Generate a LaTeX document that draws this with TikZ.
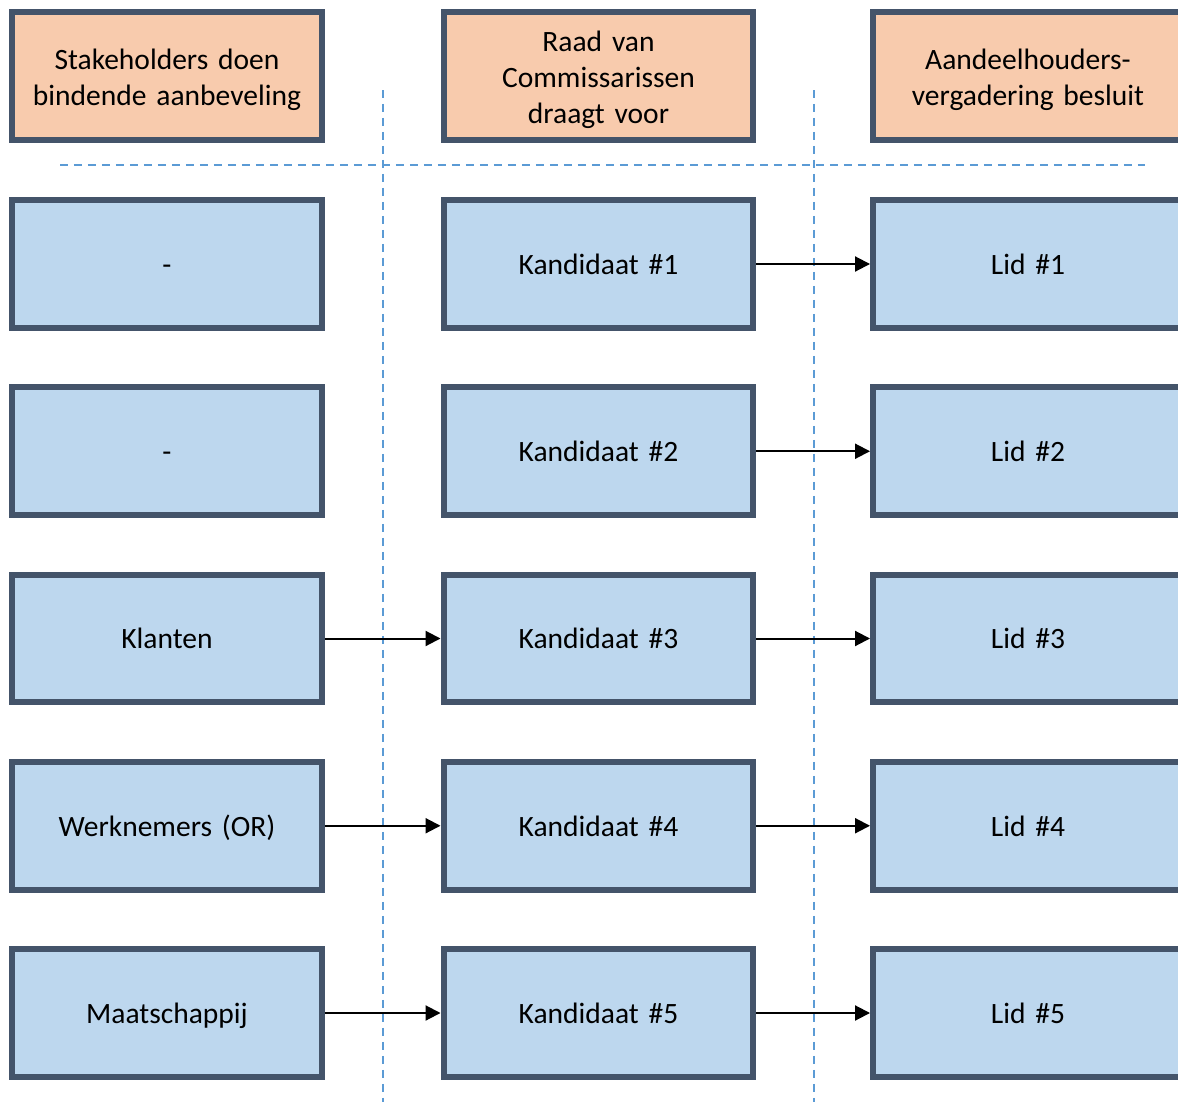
\documentclass[tikz,border=0pt]{standalone}
\usepackage{fontspec}
\setmainfont{Carlito}[WordSpace=0.8]
\usepackage{xcolor}
\usepackage{tikz}
\usetikzlibrary{positioning, arrows.meta}
\definecolor{slateborder}{HTML}{44546A}
\definecolor{peachfill}{HTML}{F8CBAD}
\definecolor{paleblue}{HTML}{BDD7EE}
\definecolor{dashblue}{HTML}{5B9BD5}

\begin{document}
\begin{tikzpicture}[x=0.02cm, y=-0.02cm]
	\tikzstyle{stepbox}=[draw=slateborder, line width=0.12cm, minimum width=6.2cm, minimum height=2.56cm, inner sep=0pt, text width=6cm, align=center, font=\fontsize{16.8}{20.5}\selectfont, text=black]
	\tikzstyle{headbox}=[stepbox, fill=peachfill, text height=16.5pt]
	\tikzstyle{rowbox}=[stepbox, fill=paleblue, execute at begin node={\vphantom{Kd}}, text depth=0pt]
	\tikzstyle{guide}=[dashblue, line width=0.04cm, dash pattern=on 0.16cm off 0.12cm]
	\tikzstyle{arr}=[black, line width=0.04cm, -{Triangle[length=0.3cm, width=0.3cm]}]

	\useasboundingbox (0,0) rectangle (1178,1102);

	% guide lines
	\draw[guide] (60,165) -- (1145,165);
	\draw[guide] (383,90) -- (383,1102);
	\draw[guide] (814,90) -- (814,1102);

	% header row
	\node[headbox] (H1) at (167,76) {Stakeholders doen\\bindende aanbeveling};
	\node[headbox] (H2) at (598.5,76) {Raad van\\Commissarissen\\draagt voor};
	\node[headbox] (H3) at (1028,76) {Aandeelhouders-\\vergadering besluit};

	% rows
	\foreach \i/\src in {1/-, 2/-, 3/Klanten, 4/Werknemers (OR), 5/Maatschappij}{
		\node[rowbox] (S\i) at (167, 264+187.25*\i-187.25) {\src};
		\node[rowbox] (K\i) at (598.5, 264+187.25*\i-187.25) {Kandidaat \#\i};
		\node[rowbox] (L\i) at (1028, 264+187.25*\i-187.25) {Lid \#\i};
	}

	\foreach \i in {1,...,5}
		\draw[arr] (K\i) -- (L\i);
	\foreach \i in {3,4,5}
		\draw[arr] (S\i) -- (K\i);
\end{tikzpicture}
\end{document}
